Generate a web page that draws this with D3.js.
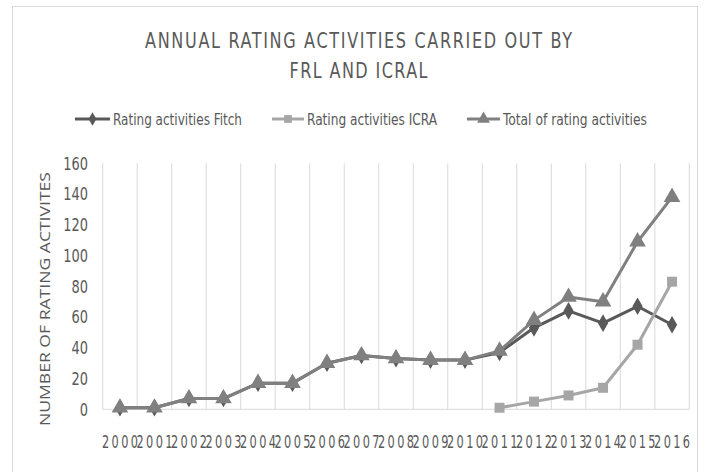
<!DOCTYPE html>
<html>
<head>
<meta charset="utf-8">
<script src="https://cdn.jsdelivr.net/npm/d3@7/dist/d3.min.js"></script>
<style>
  html, body { margin: 0; padding: 0; background: #ffffff; }
  svg { display: block; }
  text { font-family: "Liberation Sans Narrow", "DejaVu Sans Condensed", "Roboto Condensed", "Open Sans", sans-serif; fill: #595959; }
</style>
</head>
<body>
<svg id="chart" width="710" height="472"></svg>
<script>
const years = ["2000","2001","2002","2003","2004","2005","2006","2007","2008","2009","2010","2011","2012","2013","2014","2015","2016"];
const fitch = [1,1,7,7,17,17,30,35,33,32,32,37,53,64,56,67,55];
const icra  = [null,null,null,null,null,null,null,null,null,null,null,1,5,9,14,42,83];
const total = [1,1,7,7,17,17,30,35,33,32,32,38,58,73,70,109,138];
const yTicks = [0,20,40,60,80,100,120,140,160];
const titleLines = ["ANNUAL RATING ACTIVITIES CARRIED OUT BY", "FRL AND ICRAL"];
const seriesNames = ["Rating activities Fitch", "Rating activities ICRA", "Total of rating activities"];
const yTitle = "NUMBER OF RATING ACTIVITES";

const svg = d3.select("#chart");

// chart border
svg.append("rect").attr("x", 12.5).attr("y", 6.5).attr("width", 685).attr("height", 480)
  .attr("fill", "none").attr("stroke", "#d9d9d9").attr("stroke-width", 1);

const x = d3.scaleBand().domain(years).range([102.7, 689.3]).padding(0);
const y = d3.scaleLinear().domain([0, 160]).range([409.3, 163.3]);

// vertical gridlines at category boundaries
const bounds = years.map(d => x(d)).concat([x.range()[1]]);
svg.append("g").selectAll("line").data(bounds).join("line")
  .attr("x1", d => d).attr("x2", d => d)
  .attr("y1", y(160)).attr("y2", y(0))
  .attr("stroke", "#d9d9d9").attr("stroke-width", 1);

// x axis line
svg.append("line").attr("x1", x.range()[0]).attr("x2", x.range()[1])
  .attr("y1", y(0)).attr("y2", y(0)).attr("stroke", "#d9d9d9").attr("stroke-width", 1);

// y tick labels (narrow, tall glyphs)
svg.append("g").selectAll("text").data(yTicks).join("text")
  .attr("transform", d => `translate(88,${y(d)}) scale(0.8,1)`)
  .attr("dy", "0.35em")
  .attr("text-anchor", "end").attr("font-size", 18)
  .text(d => d);

// x tick labels (narrow glyphs, wide letter spacing)
const sx = 0.7;
svg.append("g").selectAll("text").data(years).join("text")
  .attr("transform", d => `translate(${x(d) + x.bandwidth()/2},442) scale(${sx},1)`)
  .attr("dy", "0.35em")
  .attr("text-anchor", "middle").attr("font-size", 18)
  .attr("textLength", 36 / sx).attr("lengthAdjust", "spacing")
  .text(d => d);

// y title
svg.append("text")
  .attr("transform", "translate(50,299) rotate(-90)")
  .attr("text-anchor", "middle").attr("font-size", 15)
  .style("font-family", "'Open Sans', sans-serif")
  .attr("textLength", 254).attr("lengthAdjust", "spacingAndGlyphs")
  .text(yTitle);

// title
const tl = [427, 138];
const tsx = 0.85;
svg.append("g").selectAll("text").data(titleLines).join("text")
  .attr("transform", (d, i) => `translate(358.5,${48 + i * 30}) scale(${tsx},1)`)
  .attr("text-anchor", "middle").attr("font-size", 21)
  .attr("textLength", (d, i) => tl[i] / tsx).attr("lengthAdjust", "spacing")
  .text(d => d);

const colors = ["#595959", "#a6a6a6", "#808080"];
const data = [fitch, icra, total];
const shapes = [d3.symbolDiamond, d3.symbolSquare, d3.symbolTriangle];
const sizes = [90, 100, 120];

const line = d3.line()
  .defined(d => d.v !== null)
  .x(d => x(d.year) + x.bandwidth()/2)
  .y(d => y(d.v));

data.forEach((arr, si) => {
  const pts = years.map((yr, i) => ({year: yr, v: arr[i]}));
  const g = svg.append("g");
  g.append("path").datum(pts).attr("d", line)
    .attr("fill", "none").attr("stroke", colors[si]).attr("stroke-width", 3)
    .attr("stroke-linejoin", "round");
  g.selectAll("path.m").data(pts.filter(d => d.v !== null)).join("path")
    .attr("class", "m")
    .attr("transform", d => `translate(${x(d.year) + x.bandwidth()/2},${y(d.v)})`)
    .attr("d", d3.symbol().type(shapes[si]).size(sizes[si]))
    .attr("fill", colors[si]);
});

// legend
const legend = [
  {x0: 75, x1: 110, tx: 113, tw: 129},
  {x0: 272, x1: 304, tx: 307, tw: 130},
  {x0: 467, x1: 500, tx: 503, tw: 144}
];
const lg = svg.append("g");
legend.forEach((l, i) => {
  lg.append("line").attr("x1", l.x0).attr("x2", l.x1).attr("y1", 119).attr("y2", 119)
    .attr("stroke", colors[i]).attr("stroke-width", 3);
  lg.append("path").attr("transform", `translate(${(l.x0 + l.x1)/2},119)`)
    .attr("d", d3.symbol().type(shapes[i]).size(sizes[i] * 0.6)).attr("fill", colors[i]);
  lg.append("text").attr("x", l.tx).attr("y", 119).attr("dy", "0.35em")
    .attr("font-size", 16)
    .attr("textLength", l.tw).attr("lengthAdjust", "spacingAndGlyphs")
    .text(seriesNames[i]);
});
</script>
</body>
</html>
